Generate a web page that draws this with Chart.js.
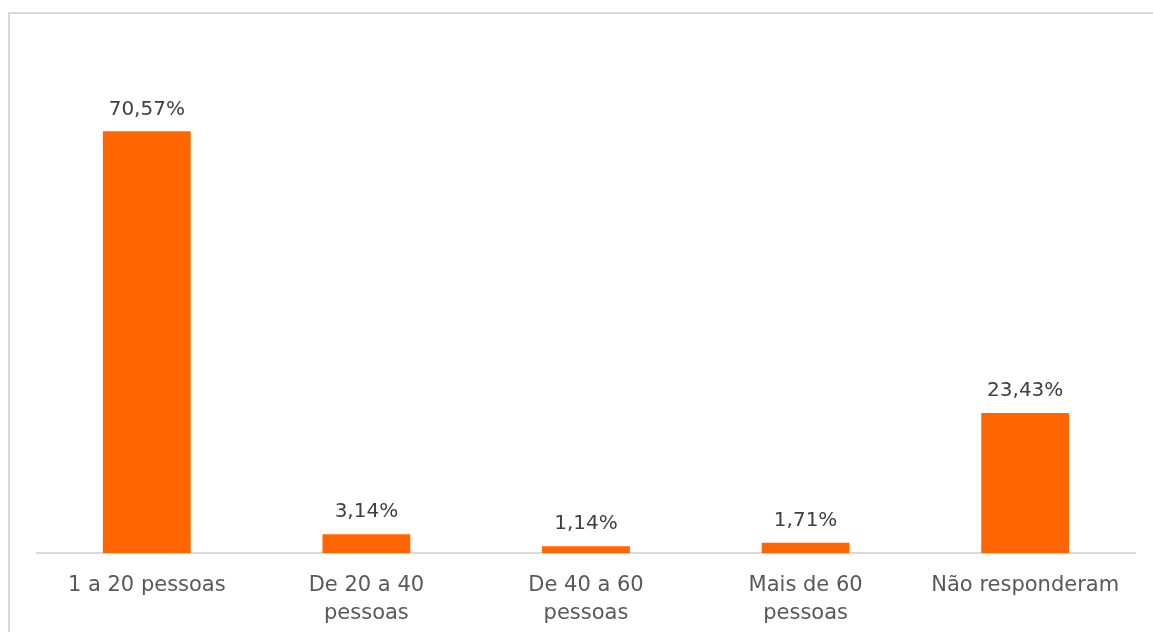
<!DOCTYPE html>
<html>
<head>
<meta charset="utf-8">
<script src="https://cdn.jsdelivr.net/npm/chart.js@4.4.0/dist/chart.umd.min.js"></script>
<style>
  html, body { margin: 0; padding: 0; background: #ffffff; overflow: hidden; }
  #wrap { position: relative; width: 1153px; height: 632px; overflow: hidden; }
</style>
</head>
<body>
<div id="wrap"><canvas id="c" width="1153" height="648"></canvas></div>
<script>
const categories = [
  "1 a 20 pessoas",
  ["De 20 a 40", "pessoas"],
  ["De 40 a 60", "pessoas"],
  ["Mais de 60", "pessoas"],
  "Não responderam"
];
const values = [70.57, 3.14, 1.14, 1.71, 23.43];
const valueLabels = ["70,57%", "3,14%", "1,14%", "1,71%", "23,43%"];

const FONT = "'DejaVu Sans', sans-serif";

const frame = {
  id: 'frame',
  beforeDraw(chart) {
    const ctx = chart.ctx;
    ctx.save();
    ctx.fillStyle = '#ffffff';
    ctx.fillRect(0, 0, chart.width, chart.height);
    ctx.strokeStyle = '#d9d9d9';
    ctx.lineWidth = 2;
    ctx.strokeRect(9, 13, 2000, 2000);
    ctx.restore();
  }
};

const dataLabels = {
  id: 'dataLabels',
  afterDatasetsDraw(chart) {
    const ctx = chart.ctx;
    const meta = chart.getDatasetMeta(0);
    ctx.save();
    ctx.font = "20px " + FONT;
    ctx.fillStyle = '#404040';
    ctx.textAlign = 'center';
    ctx.textBaseline = 'bottom';
    meta.data.forEach((bar, i) => {
      ctx.fillText(valueLabels[i], bar.x, bar.y - 12);
    });
    ctx.restore();
  }
};

new Chart(document.getElementById('c'), {
  type: 'bar',
  data: {
    labels: categories,
    datasets: [{
      data: values,
      backgroundColor: '#ff6600',
      borderWidth: 0,
      barPercentage: 0.4,
      categoryPercentage: 1.0
    }]
  },
  options: {
    responsive: false,
    animation: false,
    layout: { padding: { left: 37, right: 18, top: 75, bottom: 10 } },
    plugins: { legend: { display: false }, tooltip: { enabled: false } },
    scales: {
      x: {
        grid: { display: false },
        border: { display: true, color: '#d9d9d9', width: 2 },
        ticks: {
          autoSkip: false, maxRotation: 0, minRotation: 0,
          color: '#595959', padding: 10,
          font: { family: FONT, size: 21, lineHeight: 1.357 }
        }
      },
      y: {
        display: false,
        min: 0, max: 80
      }
    }
  },
  plugins: [frame, dataLabels]
});
</script>
</body>
</html>
